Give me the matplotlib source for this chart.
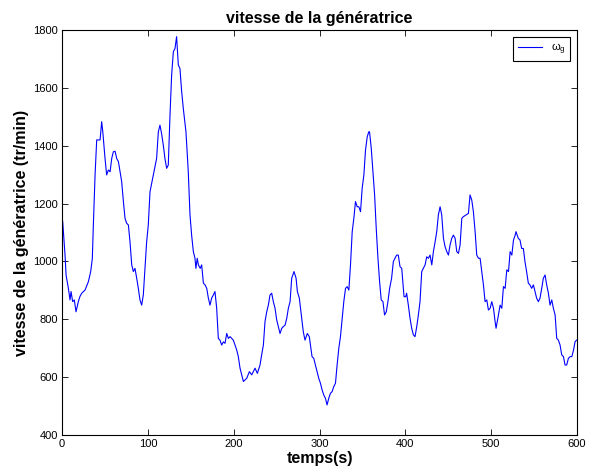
import matplotlib
matplotlib.use("Agg")
import matplotlib.pyplot as plt

# --- DATA
temps = [0, 0.8, 3.5, 4.7, 7.4, 9.3, 10.5, 12.4, 14.3, 16.3,
         19, 20.9, 22.9, 26.8, 30.7, 33.4, 35.3, 36.5, 38.5, 40.4,
         44.3, 46.2, 47.5, 50.1, 52, 54, 56, 57.9, 59.8, 61.8,
         63.7, 65.7, 67.6, 69.5, 71.5, 73.4, 75.3, 77.3, 79.2, 81.2,
         83.1, 85, 87, 88.9, 90.8, 92.8, 94.7, 96.7, 98.6, 100.5,
         102.5, 105.6, 107.5, 110.2, 112.2, 114.1, 116, 118, 119.9, 121.9,
         123.8, 125.8, 127.7, 129.7, 131.6, 133.5, 135.5, 137.4, 139.4, 141.3,
         144.4, 147.1, 149.1, 151, 153, 154.9, 156, 157.5, 158.9, 161,
         162.7, 164.7, 166.6, 168.6, 170.5, 172.4, 174.3, 176.3, 178.2, 180.2,
         182.1, 184, 186, 188, 189.9, 191.9, 193.8, 195.8, 199.6, 203.5,
         205.4, 207.4, 211.3, 215.2, 218.3, 221, 224.9, 227.6, 230.7, 232.6,
         234.6, 236.5, 238.5, 240.4, 242.3, 244.3, 246.2, 248.2, 250.1, 252,
         254, 256, 257.9, 259.9, 261.8, 263.7, 265.7, 267.6, 270.3, 272.7,
         274.2, 276.5, 279.2, 281.1, 283.1, 285.8, 288.1, 291.3, 293.3, 295.2,
         297.2, 299.1, 301.1, 303, 305, 306.9, 308.8, 310.8, 312.7, 314.7,
         316.6, 318.6, 320.5, 322.5, 324.4, 326.4, 328.3, 330.3, 332.2, 334.2,
         336.1, 338.1, 340, 341.9, 343.9, 345.8, 347.8, 349.7, 351.7, 353.6,
         355.6, 357.4, 358.3, 360.3, 362.2, 364.2, 366.1, 368.1, 370, 371.9,
         373.9, 375.8, 377.8, 379.7, 381.7, 384, 386, 387.9, 389.9, 391.8,
         393.8, 395.8, 397.7, 398.5, 400.4, 401.5, 403.5, 405.5, 407.4, 409.4,
         411.3, 413.3, 415.2, 417.1, 419.1, 421, 423, 424.9, 426.9, 428.8,
         430.8, 432.7, 434.7, 436.6, 438.5, 440.5, 442.4, 444.4, 446.3, 448.3,
         450.2, 452.1, 454.1, 456, 458, 459.9, 461.9, 463.8, 465.8, 467.7,
         470.8, 473.5, 475.4, 477.4, 479.3, 481.3, 483.2, 485.2, 487.1, 489,
         491, 492.9, 494.9, 496.8, 498.8, 500.7, 502.7, 504.6, 505.7, 508.5,
         510.4, 512.4, 514.3, 516.3, 518.2, 520.2, 522.1, 524.1, 526, 528,
         528.9, 531.6, 533.6, 535.5, 537.5, 539.4, 541.3, 543.3, 545.2, 547.2,
         549.2, 551.1, 553, 555, 556.9, 558.9, 560.8, 562.8, 564.7, 566.7,
         568.6, 570.6, 572.5, 574.5, 576.4, 578.3, 580.3, 582.2, 584.2, 586.1,
         588, 590, 592, 594, 596, 597.7, 599.5]

omega_g = [1150, 1137, 1022, 953, 907, 867, 896, 861, 867, 826,
           861, 879, 890, 901, 930, 965, 1010, 1126, 1299, 1420,
           1420, 1483, 1448, 1356, 1299, 1316, 1310, 1356, 1379, 1381,
           1356, 1345, 1310, 1276, 1207, 1149, 1132, 1126, 1068, 988,
           965, 976, 942, 907, 867, 849, 884, 976, 1068, 1126,
           1241, 1287, 1316, 1356, 1448, 1471, 1442, 1402, 1356, 1322,
           1333, 1506, 1644, 1725, 1736, 1777, 1679, 1667, 1587, 1529,
           1448, 1310, 1161, 1091, 1034, 1011, 976, 1011, 988, 976,
           988, 925, 919, 907, 873, 849, 873, 884, 896, 838,
           734, 728, 711, 722, 717, 751, 734, 740, 728, 694,
           671, 631, 585, 596, 619, 608, 631, 613, 642, 677,
           711, 792, 826, 849, 884, 890, 861, 838, 798, 775,
           751, 769, 775, 780, 803, 838, 861, 942, 965, 942,
           896, 873, 803, 757, 728, 751, 740, 671, 665, 642,
           619, 596, 579, 556, 538, 527, 504, 527, 544, 550,
           567, 579, 642, 700, 740, 803, 861, 907, 913, 901,
           988, 1103, 1149, 1207, 1189, 1189, 1172, 1253, 1299, 1385,
           1431, 1448, 1448, 1391, 1310, 1230, 1114, 1011, 930, 867,
           861, 815, 826, 861, 907, 942, 999, 1011, 1022, 1022,
           982, 976, 907, 878, 878, 890, 849, 803, 769, 746,
           740, 775, 815, 861, 965, 976, 988, 1016, 1011, 1022,
           988, 1034, 1068, 1103, 1161, 1189, 1161, 1080, 1051, 1034,
           1022, 1057, 1080, 1091, 1080, 1034, 1028, 1057, 1149, 1155,
           1161, 1166, 1230, 1212, 1172, 1103, 1022, 1011, 1011, 965,
           919, 861, 867, 832, 838, 861, 838, 792, 769, 815,
           849, 838, 913, 907, 971, 965, 1034, 1022, 1074, 1091,
           1103, 1080, 1074, 1045, 1045, 999, 965, 925, 919, 907,
           919, 896, 873, 861, 873, 907, 942, 953, 919, 890,
           849, 867, 838, 815, 734, 728, 711, 677, 671, 642,
           642, 665, 671, 671, 694, 722, 728]

xticks = [0, 100, 200, 300, 400, 500, 600]
yticks = [400, 600, 800, 1000, 1200, 1400, 1600, 1800]

plt.rcParams['font.family'] = ['Liberation Sans', 'DejaVu Sans']
plt.rcParams['mathtext.fontset'] = 'custom'
plt.rcParams['mathtext.rm'] = 'Liberation Sans'

fig = plt.figure(figsize=(5.93, 4.75), dpi=100)
ax = fig.add_axes([0.1046, 0.0842, 0.8684, 0.8526])

ax.plot(temps, omega_g, color=(0, 0, 1), linewidth=0.8,
        label=r'ω$_\mathrm{g}$')

ax.set_xlim(0, 600)
ax.set_ylim(400, 1800)
ax.set_xticks(xticks)
ax.set_yticks(yticks)
ax.tick_params(direction='in', top=True, right=True, length=4, width=0.6,
               labelsize=8, pad=3)
for sp in ax.spines.values():
    sp.set_linewidth(0.8)

ax.set_title("vitesse de la génératrice", fontsize=11.5, fontweight='bold', pad=5)
ax.set_xlabel("temps(s)", fontsize=11.5, fontweight='bold', labelpad=1)
ax.set_ylabel("vitesse de la génératrice (tr/min)", fontsize=11.5,
              fontweight='bold', labelpad=3)

leg = ax.legend(loc='upper right', fontsize=8, fancybox=False,
                edgecolor='black', framealpha=1, handlelength=2.2,
                borderaxespad=0.6)
leg.get_frame().set_linewidth(0.8)

fig.savefig("out.png", dpi=100)
